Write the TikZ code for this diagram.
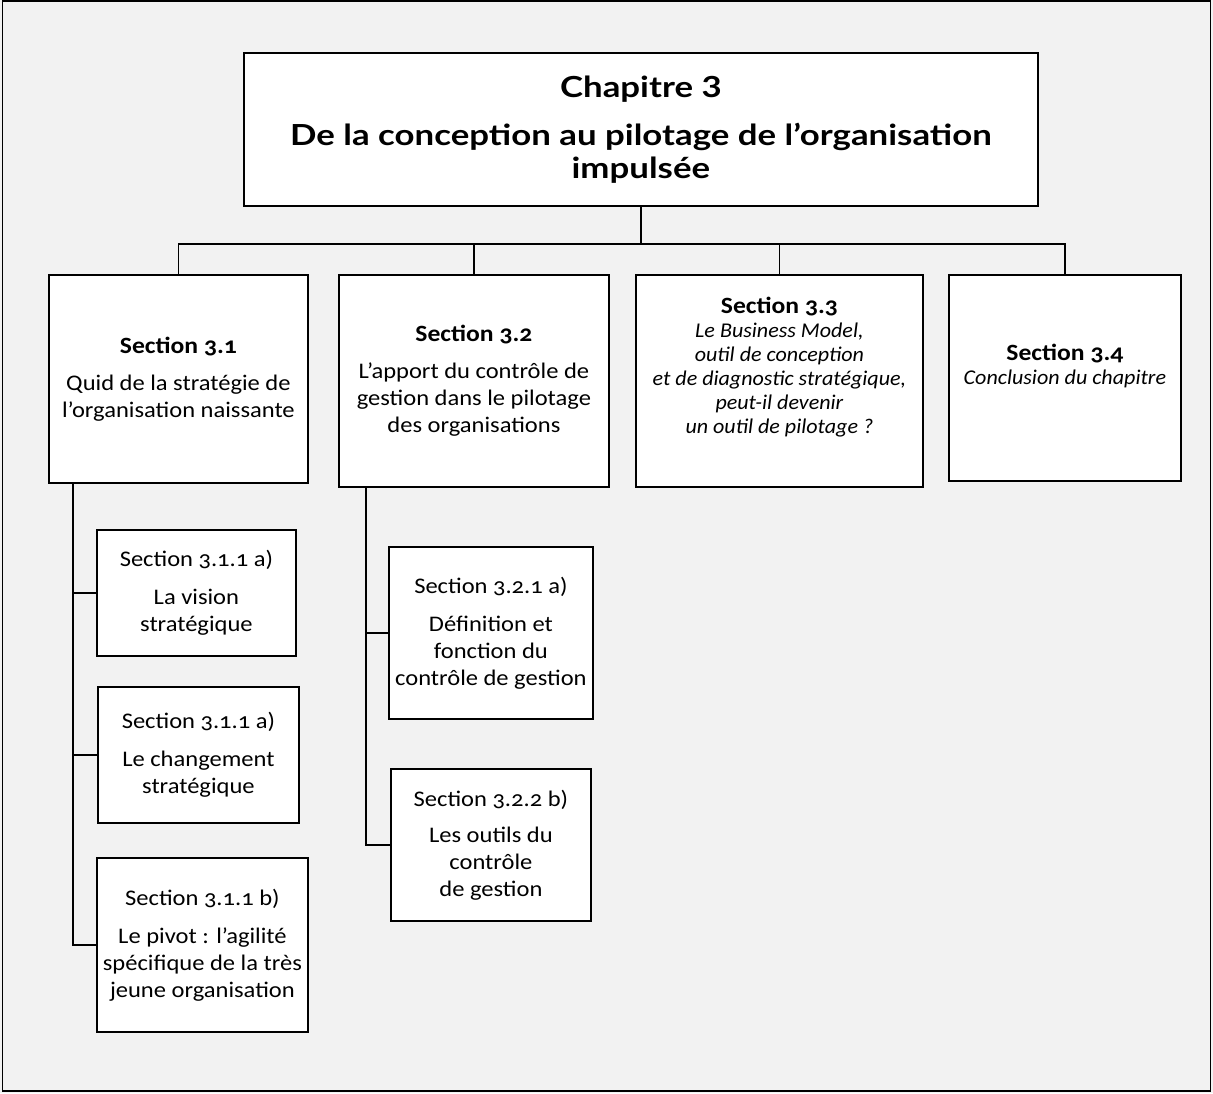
\documentclass[tikz,border=0pt]{standalone}
\usepackage{fontspec}
\setmainfont{Carlito}[Numbers=OldStyle, FakeStretch=1.1]
\newfontfamily\itf{Carlito}[Numbers=OldStyle, FakeStretch=1.05]
\newfontfamily\titlefont{Lato}[FakeStretch=1.2]
\usetikzlibrary{calc}
\definecolor{bgc}{HTML}{F2F2F2}
\tikzset{
  box/.style={draw, fill=white, line width=1.8pt, align=center, inner sep=0pt, anchor=north west,
    font=\fontsize{22.3}{27}\selectfont},
  itbox/.style={box, font=\fontsize{21}{24}\selectfont},
  link/.style={line width=1.8pt},
}
\newcommand{\hd}[1]{{\fontsize{23.3}{27}\selectfont\bfseries #1}}
\newcommand{\itl}[1]{{\itf\itshape #1}}
\begin{document}
\begin{tikzpicture}[x=1pt,y=-1pt]
\useasboundingbox (0,0) rectangle (1213,1093);
\fill[bgc] (0,0) rectangle (1213,1093);
\draw[line width=1.6pt] (2.5,1) rectangle (1210.5,1091);
% title
\node[box, minimum width=794pt, minimum height=153pt, font=\titlefont\bfseries\fontsize{29}{33}\selectfont]
  (title) at (243,52) {Chapitre 3\\[15pt]De la conception au pilotage de l’organisation\\impulsée};
% sections
\node[box, minimum width=259pt, minimum height=208pt] (s1) at (48,274)
  {\hd{Section 3.1}\\[10pt]Quid de la stratégie de\\l’organisation naissante};
\node[box, minimum width=270pt, minimum height=212pt] (s2) at (338,274)
  {\hd{Section 3.2}\\[10pt]L’apport du contrôle de\\gestion dans le pilotage\\des organisations};
\node[itbox, minimum width=287pt, minimum height=212pt] (s3) at (635,274)
  {\hd{Section 3.3}\\\itl{Le Business Model,}\\\itl{outil de conception}\\\itl{et de diagnostic stratégique,}\\\itl{peut-il devenir}\\\itl{un outil de pilotage ?}\\[8pt]};
\node[itbox, minimum width=232pt, minimum height=206pt] (s4) at (948,274)
  {\hd{Section 3.4}\\\itl{Conclusion du chapitre}\\[4pt]};
% sub-boxes of 3.1
\node[box, minimum width=199pt, minimum height=126pt] (a1) at (96,529)
  {Section 3.1.1 a)\\[11pt]La vision\\stratégique};
\node[box, minimum width=201pt, minimum height=136pt] (a2) at (97,686)
  {Section 3.1.1 a)\\[11pt]Le changement\\stratégique};
\node[box, minimum width=211pt, minimum height=174pt] (a3) at (96,857)
  {Section 3.1.1 b)\\[11pt]Le pivot : l’agilité\\spécifique de la très\\jeune organisation};
% sub-boxes of 3.2
\node[box, minimum width=204pt, minimum height=172pt] (b1) at (388,546)
  {Section 3.2.1 a)\\[11pt]Définition et\\fonction du\\contrôle de gestion};
\node[box, minimum width=200pt, minimum height=152pt] (b2) at (390,768)
  {Section 3.2.2 b)\\[9pt]Les outils du\\contrôle\\de gestion};
% connectors
\coordinate (bus) at (640,244);
\draw[link] (title.south) -- (title.south |- bus);
\draw[link] (s1.north) -- (s1.north |- bus) -- (s4.north |- bus) -- (s4.north);
\draw[link] (s2.north) -- (s2.north |- bus);
\draw[link] (s3.north) -- (s3.north |- bus);
\coordinate (v1) at ($(s1.south west)+(25,0)$);
\draw[link] (v1) |- (a3.west);
\draw[link] (v1 |- a1.west) -- (a1.west);
\draw[link] (v1 |- a2.west) -- (a2.west);
\coordinate (v2) at ($(s2.south west)+(28,0)$);
\draw[link] (v2) |- (b2.west);
\draw[link] (v2 |- b1.west) -- (b1.west);
\end{tikzpicture}
\end{document}
